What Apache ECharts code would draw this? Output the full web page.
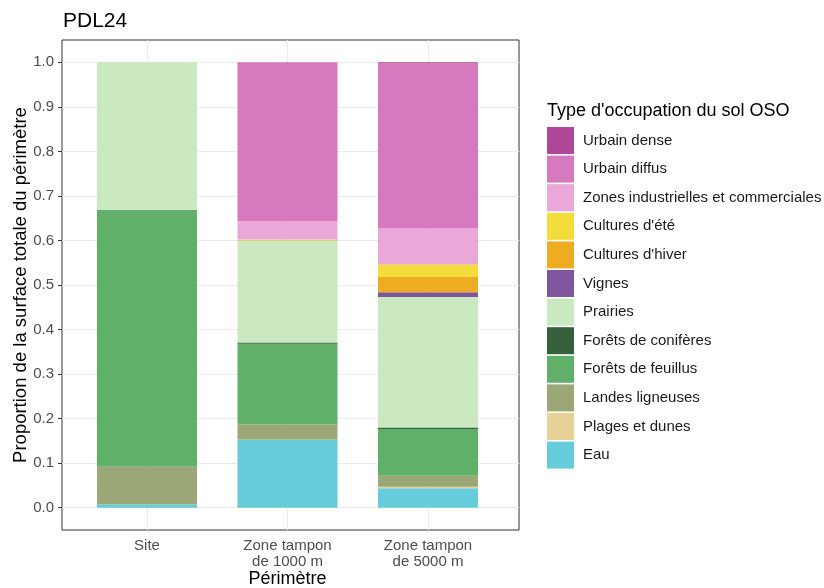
<!DOCTYPE html>
<html>
<head>
<meta charset="utf-8">
<script src="https://cdn.jsdelivr.net/npm/echarts@6/dist/echarts.min.js"></script>
<style>html,body{margin:0;padding:0;background:#fff;width:100%;height:100%;overflow:hidden}#c{width:824px;height:588px}</style>
</head>
<body>
<div id="c"></div>
<script>
const categories = ['Site', 'Zone tampon\nde 1000 m', 'Zone tampon\nde 5000 m'];
const yTicks = [0, 0.1, 0.2, 0.3, 0.4, 0.5, 0.6, 0.7, 0.8, 0.9, 1.0];
// stacking order: bottom to top
const classNames = ['Eau', 'Plages et dunes', 'Landes ligneuses', 'Forêts de feuillus', 'Forêts de conifères', 'Prairies', 'Vignes', "Cultures d'hiver", "Cultures d'été", 'Zones industrielles et commerciales', 'Urbain diffus', 'Urbain dense'];
const eau        = [0.008, 0.153, 0.044];
const plages     = [0.000, 0.000, 0.003];
const landes     = [0.084, 0.034, 0.025];
const feuillus   = [0.577, 0.181, 0.105];
const coniferes  = [0.000, 0.003, 0.003];
const prairies   = [0.331, 0.229, 0.293];
const vignes     = [0.000, 0.000, 0.011];
const hiver      = [0.000, 0.001, 0.034];
const ete        = [0.000, 0.001, 0.028];
const industrie  = [0.000, 0.041, 0.081];
const diffus     = [0.000, 0.357, 0.370];
const dense      = [0.000, 0.000, 0.003];
const seriesValues = [eau, plages, landes, feuillus, coniferes, prairies, vignes, hiver, ete, industrie, diffus, dense];
const colors = ['#66ccdb', '#e8d196', '#9ba777', '#60b06a', '#35623d', '#cae9c0', '#7d569e', '#eeac23', '#f4dd3a', '#eaa8d8', '#d679be', '#b0489a'];

const series = classNames.map((name, i) => ({
  name: name,
  type: 'bar',
  stack: 'total',
  barWidth: 100,
  xAxisIndex: 1, yAxisIndex: 1,
  itemStyle: { color: colors[i] },
  data: seriesValues[i]
}));
series[0].markLine = {
  silent: true, symbol: 'none', z: 1,
  label: { show: false },
  lineStyle: { color: '#ebebeb', type: 'solid', width: 1 },
  data: categories.map((c, i) => ({ xAxis: i }))
};

const FONT = 'Liberation Sans';
const chart = echarts.init(document.getElementById('c'));
chart.setOption({
  animation: false,
  title: [
    { text: 'PDL24', left: 58, top: 6, textStyle: { fontFamily: FONT, fontSize: 21, fontWeight: 'normal', color: '#000' } },
    { text: "Type d'occupation du sol OSO", left: 542, top: 97, textStyle: { fontFamily: FONT, fontSize: 18, fontWeight: 'normal', color: '#000' } }
  ],
  legend: {
    orient: 'vertical', left: 547, top: 127, padding: 0,
    itemWidth: 27, itemHeight: 27, itemGap: 1.6,
    icon: 'rect',
    data: classNames.slice().reverse(),
    textStyle: { fontFamily: FONT, fontSize: 15, color: '#1a1a1a', padding: [0, 0, 0, 4] }
  },
  grid: [
    { left: 62, right: 305, top: 40, bottom: 58, show: true, borderColor: '#333', borderWidth: 1, backgroundColor: 'transparent', outerBoundsMode: 'none', containLabel: false },
    { left: 76.75, right: 325.75, top: 40, bottom: 58, outerBoundsMode: 'none', containLabel: false }
  ],
  xAxis: [
    { type: 'value', gridIndex: 0, min: 0, max: 1, show: false },
    {
      type: 'category', gridIndex: 1, data: categories,
      name: 'Périmètre', nameLocation: 'middle', nameGap: 40, nameMoveOverlap: false,
      nameTextStyle: { fontFamily: FONT, fontSize: 18, color: '#000' },
      axisLine: { show: false },
      axisTick: { show: true, length: 4, alignWithLabel: true, lineStyle: { color: '#333' } },
      axisLabel: { margin: 8, fontFamily: FONT, fontSize: 15, color: '#4d4d4d', lineHeight: 16 },
      splitLine: { show: false }
    }
  ],
  yAxis: [
    {
      type: 'value', gridIndex: 0, min: -0.05, max: 1.05, interval: 0.05,
      name: 'Proportion de la surface totale du périmètre', nameLocation: 'middle', nameGap: 32, nameMoveOverlap: false,
      nameTextStyle: { fontFamily: FONT, fontSize: 18.5, color: '#000' },
      axisLine: { show: false },
      axisTick: { show: true, length: 4, customValues: yTicks, lineStyle: { color: '#333' } },
      axisLabel: { customValues: yTicks, margin: 8, formatter: v => v.toFixed(1), fontFamily: FONT, fontSize: 15, color: '#4d4d4d' },
      splitLine: { show: true, lineStyle: { color: '#ebebeb', width: 1 } }
    },
    { type: 'value', gridIndex: 1, min: -0.05, max: 1.05, interval: 0.05, show: false }
  ],
  series: series
});
</script>
</body>
</html>
